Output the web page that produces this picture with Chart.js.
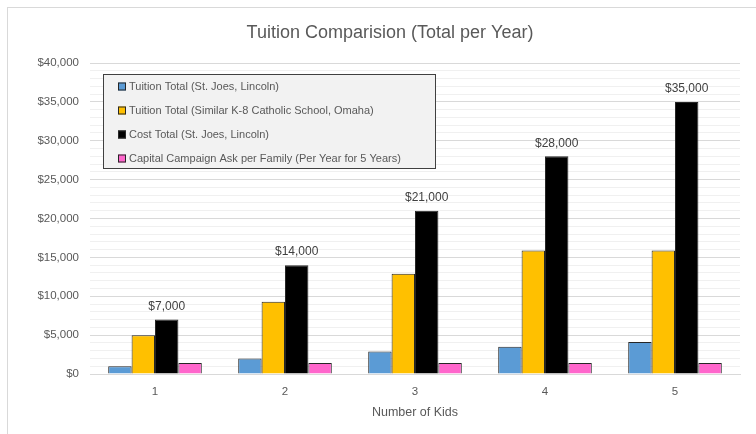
<!DOCTYPE html>
<html>
<head>
<meta charset="utf-8">
<script src="https://cdn.jsdelivr.net/npm/chart.js@4.4.1/dist/chart.umd.min.js"></script>
<style>
  html, body { margin: 0; padding: 0; background: #ffffff; }
  #wrap { position: relative; width: 756px; height: 434px; overflow: hidden; }
  #frame { position: absolute; left: 7px; top: 7px; width: 760px; height: 440px; border: 1px solid #d9d9d9; box-sizing: border-box; }
  canvas { position: absolute; left: 0; top: 0; }
</style>
</head>
<body>
<div id="wrap">
  <div id="frame"></div>
  <canvas id="c" width="756" height="434"></canvas>
</div>
<script>
const categories = ['1', '2', '3', '4', '5'];
const seriesNames = [
  'Tuition Total (St. Joes, Lincoln)',
  'Tuition Total (Similar K-8 Catholic School, Omaha)',
  'Cost Total (St. Joes, Lincoln)',
  'Capital Campaign Ask per Family (Per Year for 5 Years)'
];
const tuitionStJoes = [1000, 2000, 2900, 3500, 4100];
const tuitionOmaha = [5000, 9300, 12900, 15900, 15900];
const costStJoes = [7000, 14000, 21000, 28000, 35000];
const capitalCampaign = [1400, 1400, 1400, 1400, 1400];
const seriesColors = ['#5b9bd5', '#ffc000', '#000000', '#ff66cc'];
const labeledSeries = 2;

const FONT = '"Liberation Sans", Arial, sans-serif';
const TEXT = '#595959';

const legendBoxPlugin = {
  id: 'legendBox',
  afterDraw(chart) {
    const ctx = chart.ctx;
    const x = 103, y = 74, w = 332, h = 94;
    ctx.save();
    ctx.fillStyle = '#f2f2f2';
    ctx.fillRect(x, y, w, h);
    ctx.strokeStyle = '#404040';
    ctx.lineWidth = 1;
    ctx.strokeRect(x + 0.5, y + 0.5, w, h);
    ctx.font = '11px ' + FONT;
    ctx.textBaseline = 'middle';
    chart.data.datasets.forEach((ds, i) => {
      const cy = y + 12.5 + i * 24;
      ctx.fillStyle = ds.backgroundColor;
      ctx.fillRect(118, cy - 4, 8, 8);
      ctx.strokeStyle = '#262626';
      ctx.strokeRect(118.5, cy - 3.5, 7, 7);
      ctx.fillStyle = TEXT;
      ctx.fillText(ds.label, 129, cy);
    });
    ctx.restore();
  }
};

const valueLabelPlugin = {
  id: 'valueLabels',
  afterDatasetsDraw(chart) {
    const ctx = chart.ctx;
    const meta = chart.getDatasetMeta(labeledSeries);
    const data = chart.data.datasets[labeledSeries].data;
    ctx.save();
    ctx.font = '12px ' + FONT;
    ctx.fillStyle = '#404040';
    ctx.textAlign = 'center';
    ctx.textBaseline = 'bottom';
    meta.data.forEach((bar, i) => {
      ctx.fillText('$' + data[i].toLocaleString('en-US'), bar.x, bar.y - 7);
    });
    ctx.restore();
  }
};

const titlePlugin = {
  id: 'customTitle',
  afterDraw(chart) {
    const ctx = chart.ctx;
    ctx.save();
    ctx.font = '18px ' + FONT;
    ctx.fillStyle = TEXT;
    ctx.textAlign = 'center';
    ctx.textBaseline = 'middle';
    ctx.fillText('Tuition Comparision (Total per Year)', 390, 33);
    ctx.restore();
  }
};

const allSeries = [tuitionStJoes, tuitionOmaha, costStJoes, capitalCampaign];

new Chart(document.getElementById('c'), {
  type: 'bar',
  data: {
    labels: categories,
    datasets: allSeries.map((d, i) => ({
      label: seriesNames[i],
      data: d,
      backgroundColor: seriesColors[i],
      borderColor: '#262626',
      borderWidth: 1,
      categoryPercentage: 0.72,
      barPercentage: 1.0
    }))
  },
  options: {
    responsive: false,
    animation: false,
    devicePixelRatio: 1,
    layout: { padding: { top: 63, right: 16, left: 0, bottom: 10 } },
    plugins: {
      legend: { display: false },
      title: { display: false },
      tooltip: { enabled: false }
    },
    scales: {
      x: {
        grid: { display: false, drawTicks: false },
        border: { display: true, color: '#d9d9d9' },
        ticks: { color: TEXT, font: { family: FONT, size: 11.5 }, padding: 11 },
        title: { display: true, text: 'Number of Kids', color: TEXT, font: { family: FONT, size: 12.5 }, padding: { top: 4 } },
        afterFit(scale) { scale.height = 50; }
      },
      y: {
        min: 0,
        max: 40000,
        border: { display: false },
        grid: {
          drawTicks: false,
          color: (c) => (c.tick && c.tick.value % 5000 === 0) ? '#d9d9d9' : '#f0f0f0'
        },
        ticks: {
          stepSize: 1000,
          autoSkip: false,
          padding: 11,
          color: TEXT,
          font: { family: FONT, size: 11.5 },
          callback: (v) => v % 5000 === 0 ? '$' + v.toLocaleString('en-US') : ''
        },
        afterFit(scale) { scale.width = 90; }
      }
    }
  },
  plugins: [legendBoxPlugin, valueLabelPlugin, titlePlugin]
});
</script>
</body>
</html>
